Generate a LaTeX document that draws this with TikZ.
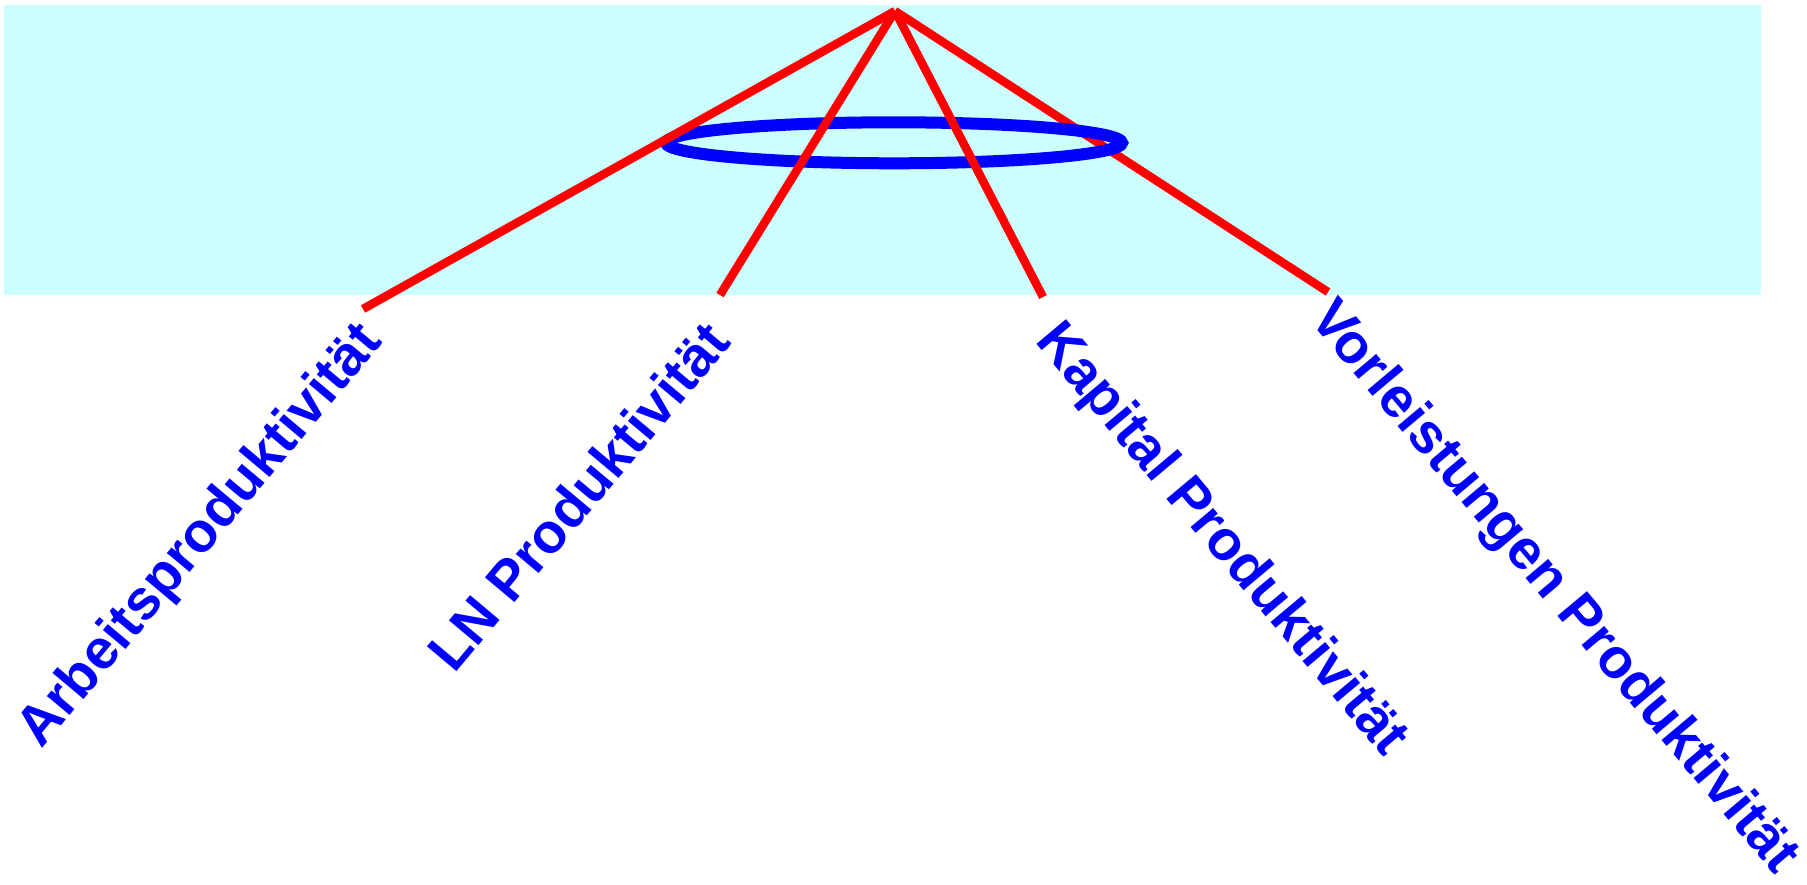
\documentclass[tikz,border=0pt]{standalone}
\usepackage{fontspec}
\setmainfont{Liberation Sans}
\definecolor{bgcyan}{HTML}{CCFFFF}
\definecolor{linered}{HTML}{FF0000}
\definecolor{ringblue}{HTML}{0000FF}
\begin{document}
\begin{tikzpicture}[x=1pt,y=-1pt,
  conn/.style={draw=linered,line width=8.5pt,line cap=butt},
  ring/.style={draw=ringblue,line width=12pt},
  lbl/.style={text=ringblue,inner sep=0pt,font=\fontsize{56pt}{60pt}\selectfont\bfseries}]
\useasboundingbox (0,0) rectangle (1807,885);
\fill[bgcyan] (4,5) rectangle (1761,295);
\coordinate (apex) at (895,11);
\coordinate (ea) at (363,309);
\coordinate (el) at (720,295);
\coordinate (ek) at (1043,297);
\coordinate (ev) at (1328,292);
\draw[conn] (apex) -- (ev);
\draw[ring] (894,142.8) ellipse [x radius=228, y radius=20.5];
\draw[conn] (apex) -- (ea);
\draw[conn] (apex) -- (el);
\draw[conn] (apex) -- (ek);
\node[lbl,rotate=50,anchor=base east] (la) at (384,342) {Arbeitsproduktivität};
\node[lbl,rotate=50,anchor=base east] (ll) at (733,343) {LN Produktivität};
\node[lbl,rotate=-50,anchor=base west] (lk) at (1034,341) {Kapital Produktivität};
\node[lbl,rotate=-50,anchor=base west] (lv) at (1308,319) {Vorleistungen Produktivität};
\end{tikzpicture}
\end{document}
